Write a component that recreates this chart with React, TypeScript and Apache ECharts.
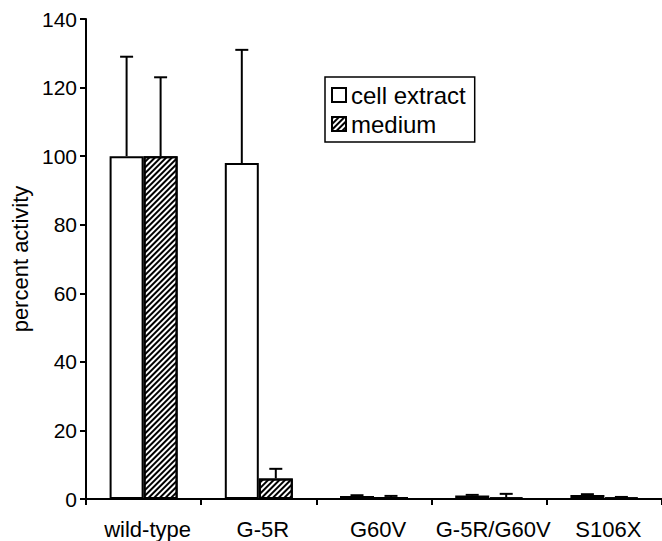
import React, { useEffect, useRef } from "react";
import * as echarts from "echarts";

const categories = ["wild-type", "G-5R", "G60V", "G-5R/G60V", "S106X"];
const cellExtract = [100, 98, 0.9, 1, 1.2];
const cellExtractUpper = [129, 131, 1.1, 1.2, 1.4];
const medium = [100, 6, 0.6, 0.4, 0.4];
const mediumUpper = [123, 8.8, 0.9, 1.5, 0.6];
const yTicks = { min: 0, max: 140, interval: 20 };

const FONT = "Liberation Sans, Arial, Helvetica, sans-serif";

export default function App() {
  const ref = useRef<HTMLDivElement>(null);
  useEffect(() => {
    const chart = echarts.init(ref.current!, null, { renderer: "svg" });
    const errSeries = (name: string, low: number[], high: number[], offset: number) => ({
      type: "custom",
      name,
      silent: true,
      z: 5,
      data: low.map((v, i) => [i, v, high[i]]),
      encode: { x: 0, y: [1, 2] },
      renderItem: (params: any, api: any) => {
        const i = api.value(0);
        const p0 = api.coord([i, api.value(1)]);
        const p1 = api.coord([i, api.value(2)]);
        const x = p0[0] + offset;
        return {
          type: "group",
          children: [
            { type: "line", shape: { x1: x, y1: p0[1], x2: x, y2: p1[1] }, style: { stroke: "#000", lineWidth: 2 } },
            { type: "line", shape: { x1: x - 6.5, y1: p1[1], x2: x + 6.5, y2: p1[1] }, style: { stroke: "#000", lineWidth: 2 } },
          ],
        };
      },
    });
    chart.setOption({
      animation: false,
      backgroundColor: "#fff",
      grid: { left: 86, top: 19, width: 578, height: 480, containLabel: false },
      legend: {
        left: 325,
        top: 77,
        orient: "vertical",
        data: ["cell extract", "medium"],
        icon: "rect",
        itemWidth: 14,
        itemHeight: 14,
        itemGap: 5,
        padding: [6, 9, 6, 6],
        borderColor: "#000",
        borderWidth: 1.5,
        borderRadius: 0,
        textStyle: { fontFamily: FONT, fontSize: 24, color: "#000" },
      },
      xAxis: {
        type: "category",
        data: categories,
        axisLine: { lineStyle: { color: "#000", width: 2 } },
        axisTick: { show: true, length: 6, lineStyle: { color: "#000", width: 2 } },
        axisLabel: {
          fontFamily: FONT,
          fontSize: 22,
          color: "#000",
          margin: 19,
          interval: 0,
          padding: [0, 0, 0, 8],
        },
      },
      yAxis: {
        type: "value",
        min: yTicks.min,
        max: yTicks.max,
        interval: yTicks.interval,
        name: "percent activity",
        nameLocation: "middle",
        nameGap: 53,
        nameTextStyle: { fontFamily: FONT, fontSize: 22, color: "#000" },
        splitLine: { show: false },
        axisLine: { show: true, lineStyle: { color: "#000", width: 2 } },
        axisTick: { show: true, length: 6, lineStyle: { color: "#000", width: 2 } },
        axisLabel: { fontFamily: FONT, fontSize: 21, color: "#000", margin: 9 },
      },
      series: [
        {
          name: "cell extract",
          type: "bar",
          data: cellExtract,
          barWidth: 34,
          barGap: "0%",
          itemStyle: { color: "#fff", borderColor: "#000", borderWidth: 2 },
        },
        {
          name: "medium",
          type: "bar",
          data: medium,
          barWidth: 34,
          barGap: "0%",
          itemStyle: {
            color: "#fff",
            borderColor: "#000",
            borderWidth: 2,
            decal: {
              symbol: "rect",
              symbolSize: 1,
              color: "#000",
              backgroundColor: "#fff",
              dashArrayX: [1, 0],
              dashArrayY: [2, 2],
              rotation: -Math.PI / 4,
            },
          },
        },
        errSeries("cellErr", cellExtract, cellExtractUpper, -17),
        errSeries("medErr", medium, mediumUpper, 17),
      ],
    });
    return () => chart.dispose();
  }, []);
  return <div ref={ref} style={{ width: 662, height: 541, position: "absolute", left: 0, top: 0 }} />;
}
